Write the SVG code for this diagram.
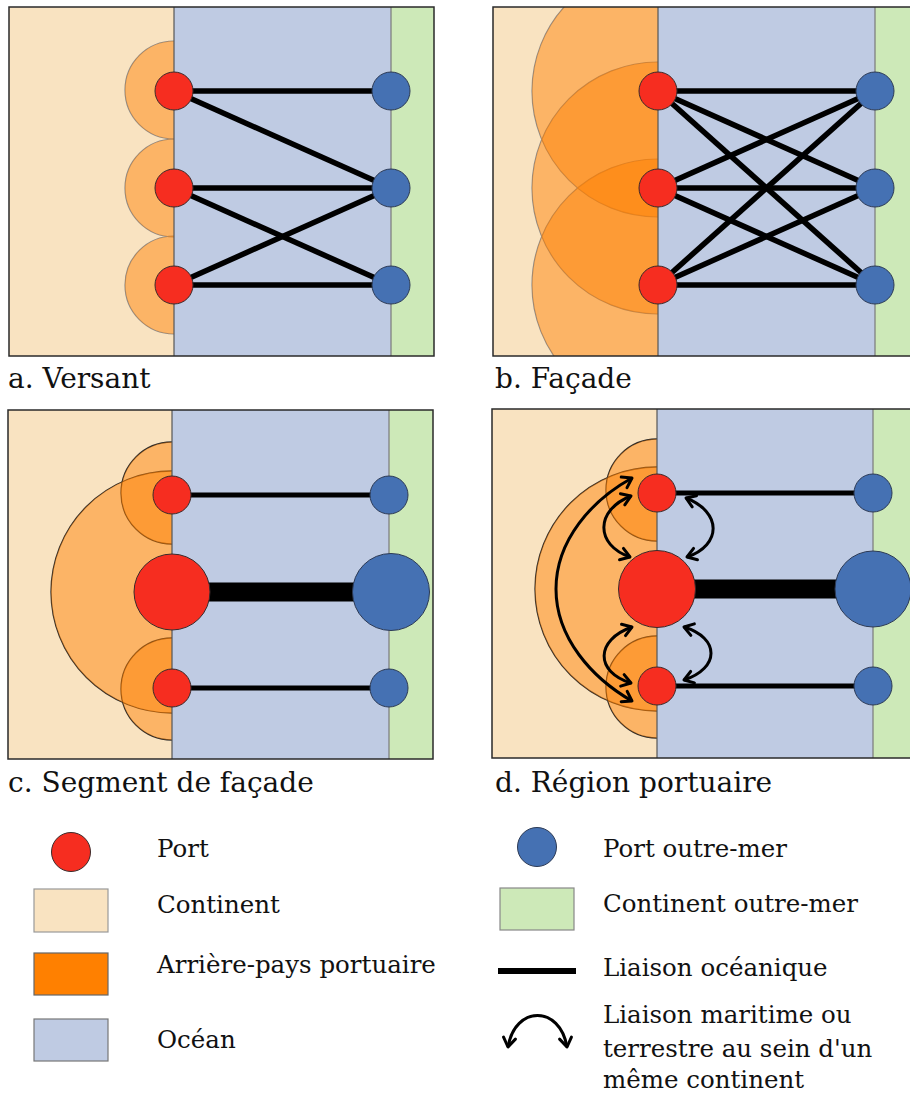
<svg xmlns="http://www.w3.org/2000/svg" width="910" height="1095" viewBox="0 0 910 1095">
<style>
.cont{fill:#F9E3C1}
.ocean{fill:#BFCBE3}
.over{fill:#CDE9B8}
.frame{fill:none;stroke:#2a2a2a;stroke-width:1.5}
.div{stroke:#555;stroke-width:1.2}
.div2{stroke:#7a7a7a;stroke-width:1.2}
.hs{fill:none;stroke:#8c8c8c;stroke-width:1.2}
.hsd{fill:none;stroke:#2a2a2a;stroke-width:1.3}
.hf{fill:#FF8000;fill-opacity:0.47;stroke:none}
.port{fill:#F62D20;stroke:#3a2a2a;stroke-width:1}
.oport{fill:#4571B3;stroke:#2c3a55;stroke-width:1}
.link{stroke:#000;stroke-width:5.5;fill:none}
.link2{stroke:#000;stroke-width:5;fill:none}
.big{stroke:#000;stroke-width:19;fill:none}
.arr{fill:none;stroke:#000;stroke-width:3;marker-start:url(#ah);marker-end:url(#ah)}
.lbl{font-family:"DejaVu Serif","Liberation Serif",serif;font-size:28px;fill:#111}
.leg{font-family:"DejaVu Serif","Liberation Serif",serif;font-size:24.5px;fill:#111}
</style>
<defs>
<marker id="ah" viewBox="0 0 16 16" markerWidth="16" markerHeight="16" refX="13" refY="8" orient="auto-start-reverse" markerUnits="userSpaceOnUse">
<path d="M 4 2 L 13 8 L 4 14" fill="none" stroke="#000" stroke-width="3" stroke-linecap="round" stroke-linejoin="round"/>
</marker>
<clipPath id="ca"><rect x="9" y="7" width="165" height="349"/></clipPath>
<clipPath id="cb"><rect x="493" y="7" width="165" height="349"/></clipPath>
<clipPath id="cc"><rect x="8" y="410" width="164" height="349"/></clipPath>
<clipPath id="cd"><rect x="492" y="409" width="165" height="349"/></clipPath>
</defs>

<!-- Panel a -->
<g id="panel-a">
<rect class="cont" x="9" y="7" width="165" height="349"/>
<rect class="ocean" x="174" y="7" width="217" height="349"/>
<rect class="over" x="391" y="7" width="43" height="349"/>
<g clip-path="url(#ca)">
<circle class="hs" cx="174" cy="90" r="49"/>
<circle class="hs" cx="174" cy="188" r="49"/>
<circle class="hs" cx="174" cy="285" r="49"/>
<circle class="hf" cx="174" cy="90" r="49"/>
<circle class="hf" cx="174" cy="188" r="49"/>
<circle class="hf" cx="174" cy="285" r="49"/>
</g>
<line class="div" x1="174" y1="7" x2="174" y2="356"/>
<line class="div2" x1="391" y1="7" x2="391" y2="356"/>
<rect class="frame" x="9" y="7" width="425" height="349"/>
</g>
<g id="connectors-a">
<line class="link" x1="174" y1="91" x2="391" y2="91"/>
<line class="link" x1="174" y1="91" x2="391" y2="188"/>
<line class="link" x1="174" y1="188" x2="391" y2="188"/>
<line class="link" x1="174" y1="188" x2="391" y2="285"/>
<line class="link" x1="174" y1="285" x2="391" y2="188"/>
<line class="link" x1="174" y1="285" x2="391" y2="285"/>
</g>
<g id="a-port1"><circle class="port" cx="174" cy="91" r="19"/></g>
<g id="a-port2"><circle class="port" cx="174" cy="188" r="19"/></g>
<g id="a-port3"><circle class="port" cx="174" cy="285" r="19"/></g>
<g id="a-oport1"><circle class="oport" cx="391" cy="91" r="19"/></g>
<g id="a-oport2"><circle class="oport" cx="391" cy="188" r="19"/></g>
<g id="a-oport3"><circle class="oport" cx="391" cy="285" r="19"/></g>
<text class="lbl" x="8" y="388">a. Versant</text>

<!-- Panel b -->
<g id="panel-b">
<rect class="cont" x="493" y="7" width="165" height="349"/>
<rect class="ocean" x="658" y="7" width="217" height="349"/>
<rect class="over" x="875" y="7" width="40" height="349"/>
<g clip-path="url(#cb)">
<circle class="hs" cx="658" cy="91" r="126"/>
<circle class="hs" cx="658" cy="188" r="126"/>
<circle class="hs" cx="658" cy="285" r="126"/>
<circle class="hf" cx="658" cy="91" r="126"/>
<circle class="hf" cx="658" cy="188" r="126"/>
<circle class="hf" cx="658" cy="285" r="126"/>
</g>
<line class="div" x1="658" y1="7" x2="658" y2="356"/>
<line class="div2" x1="875" y1="7" x2="875" y2="356"/>
<rect class="frame" x="493" y="7" width="430" height="349"/>
</g>
<g id="connectors-b">
<line class="link" x1="658" y1="91" x2="875" y2="91"/>
<line class="link" x1="658" y1="91" x2="875" y2="188"/>
<line class="link" x1="658" y1="91" x2="875" y2="285"/>
<line class="link" x1="658" y1="188" x2="875" y2="91"/>
<line class="link" x1="658" y1="188" x2="875" y2="188"/>
<line class="link" x1="658" y1="188" x2="875" y2="285"/>
<line class="link" x1="658" y1="285" x2="875" y2="91"/>
<line class="link" x1="658" y1="285" x2="875" y2="188"/>
<line class="link" x1="658" y1="285" x2="875" y2="285"/>
</g>
<g id="b-port1"><circle class="port" cx="658" cy="91" r="19"/></g>
<g id="b-port2"><circle class="port" cx="658" cy="188" r="19"/></g>
<g id="b-port3"><circle class="port" cx="658" cy="285" r="19"/></g>
<g id="b-oport1"><circle class="oport" cx="875" cy="91" r="19"/></g>
<g id="b-oport2"><circle class="oport" cx="875" cy="188" r="19"/></g>
<g id="b-oport3"><circle class="oport" cx="875" cy="285" r="19"/></g>
<text class="lbl" x="495" y="388">b. Façade</text>

<!-- Panel c -->
<g id="panel-c">
<rect class="cont" x="8" y="410" width="164" height="349"/>
<rect class="ocean" x="172" y="410" width="217" height="349"/>
<rect class="over" x="389" y="410" width="44" height="349"/>
<g clip-path="url(#cc)">
<circle class="hsd" cx="172" cy="493" r="51"/>
<circle class="hsd" cx="172" cy="689" r="51"/>
<circle class="hsd" cx="172" cy="592" r="121"/>
<circle class="hf" cx="172" cy="493" r="51"/>
<circle class="hf" cx="172" cy="689" r="51"/>
<circle class="hf" cx="172" cy="592" r="121"/>
</g>
<line class="div" x1="172" y1="410" x2="172" y2="759"/>
<line class="div2" x1="389" y1="410" x2="389" y2="759"/>
<rect class="frame" x="8" y="410" width="425" height="349"/>
</g>
<g id="connectors-c">
<line class="link2" x1="172" y1="495" x2="389" y2="495"/>
<line class="big" x1="172" y1="592" x2="391" y2="592"/>
<line class="link2" x1="172" y1="688" x2="389" y2="688"/>
</g>
<g id="c-port1"><circle class="port" cx="172" cy="495" r="19"/></g>
<g id="c-port2"><circle class="port" cx="172" cy="592" r="38"/></g>
<g id="c-port3"><circle class="port" cx="172" cy="688" r="19"/></g>
<g id="c-oport1"><circle class="oport" cx="389" cy="495" r="19"/></g>
<g id="c-oport2"><circle class="oport" cx="391" cy="592" r="38.5"/></g>
<g id="c-oport3"><circle class="oport" cx="389" cy="688" r="19"/></g>
<text class="lbl" x="8" y="792">c. Segment de façade</text>

<!-- Panel d -->
<g id="panel-d">
<rect class="cont" x="492" y="409" width="165" height="349"/>
<rect class="ocean" x="657" y="409" width="216" height="349"/>
<rect class="over" x="873" y="409" width="42" height="349"/>
<g clip-path="url(#cd)">
<circle class="hsd" cx="657" cy="490" r="51"/>
<circle class="hsd" cx="657" cy="687" r="51"/>
<circle class="hsd" cx="657" cy="589" r="122"/>
<circle class="hf" cx="657" cy="490" r="51"/>
<circle class="hf" cx="657" cy="687" r="51"/>
<circle class="hf" cx="657" cy="589" r="122"/>
</g>
<line class="div" x1="657" y1="409" x2="657" y2="758"/>
<line class="div2" x1="873" y1="409" x2="873" y2="758"/>
<rect class="frame" x="492" y="409" width="430" height="349"/>
</g>
<g id="connectors-d">
<line class="link2" x1="657" y1="493" x2="873" y2="493"/>
<line class="big" x1="657" y1="589" x2="873" y2="589"/>
<line class="link2" x1="657" y1="686" x2="873" y2="686"/>
<path class="arr" d="M 632 478 C 592 500 556 540 556 589 C 556 638 592 678 632 701"/>
<path class="arr" d="M 631 496 C 595 510 595 545 630 557"/>
<path class="arr" d="M 632 627 C 595 640 595 672 631 683"/>
<path class="arr" d="M 686 498 C 722 512 722 545 687 557"/>
<path class="arr" d="M 684 627 C 720 638 720 668 684 680"/>
</g>
<g id="d-port1"><circle class="port" cx="657" cy="493" r="19"/></g>
<g id="d-port2"><circle class="port" cx="657" cy="589" r="38.5"/></g>
<g id="d-port3"><circle class="port" cx="657" cy="686" r="19"/></g>
<g id="d-oport1"><circle class="oport" cx="873" cy="493" r="19"/></g>
<g id="d-oport2"><circle class="oport" cx="873" cy="589" r="38"/></g>
<g id="d-oport3"><circle class="oport" cx="873" cy="686" r="19"/></g>
<text class="lbl" x="495" y="792">d. Région portuaire</text>

<!-- Legend -->
<g id="legend-port"><circle class="port" cx="71" cy="852" r="19.5"/><text class="leg" x="157" y="857">Port</text></g>
<g id="legend-continent"><rect class="cont" x="34" y="889" width="74" height="43" stroke="#999" stroke-width="1.2"/><text class="leg" x="157" y="913">Continent</text></g>
<g id="legend-hinterland"><rect x="34" y="953" width="74" height="42" fill="#FF8000" stroke="#666" stroke-width="1.2"/><text class="leg" x="157" y="973">Arrière-pays portuaire</text></g>
<g id="legend-ocean"><rect class="ocean" x="34" y="1019" width="74" height="42" stroke="#777" stroke-width="1.2"/><text class="leg" x="157" y="1048">Océan</text></g>
<g id="legend-oport"><circle class="oport" cx="537" cy="847" r="19.5"/><text class="leg" x="603" y="857">Port outre-mer</text></g>
<g id="legend-ocont"><rect class="over" x="500" y="888" width="74" height="42" stroke="#888" stroke-width="1.2"/><text class="leg" x="603" y="912">Continent outre-mer</text></g>
<g id="legend-link"><line x1="498" y1="971" x2="576" y2="971" stroke="#000" stroke-width="6"/><text class="leg" x="603" y="976">Liaison océanique</text></g>
<g id="legend-arrow"><path class="arr" d="M 508 1047 C 515 1005 560 1005 567 1047"/><text class="leg" x="603" y="1023">Liaison maritime ou</text><text class="leg" x="603" y="1057">terrestre au sein d'un</text><text class="leg" x="603" y="1088">même continent</text></g>
</svg>
